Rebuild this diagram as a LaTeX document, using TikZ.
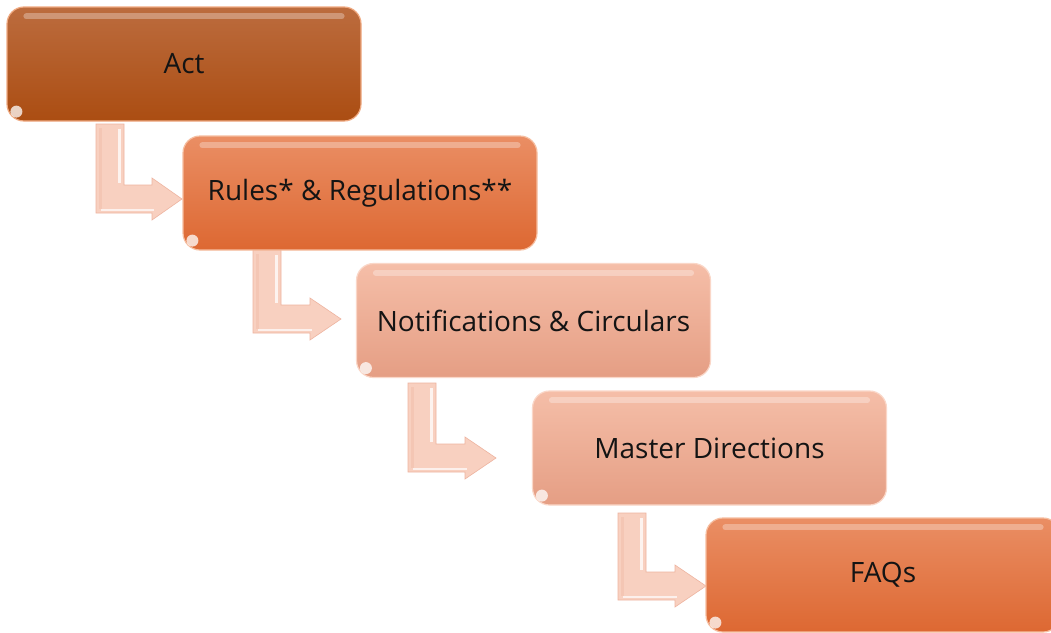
\documentclass[tikz,border=0pt]{standalone}
\usepackage{fontspec}
\setmainfont{Open Sans}
\definecolor{actT}{RGB}{188,108,62}
\definecolor{actB}{RGB}{171,77,18}
\definecolor{actE}{RGB}{240,170,130}
\definecolor{darkT}{RGB}{234,142,100}
\definecolor{darkB}{RGB}{221,104,50}
\definecolor{darkE}{RGB}{246,190,160}
\definecolor{lightT}{RGB}{245,190,168}
\definecolor{lightB}{RGB}{229,158,132}
\definecolor{lightE}{RGB}{250,215,200}
\definecolor{arrowF}{RGB}{248,208,192}
\definecolor{arrowD}{RGB}{238,180,160}
\tikzset{
  box/.style={rounded corners=17pt, minimum width=354pt, minimum height=114pt,
    inner sep=0pt, font=\fontsize{28}{33}\selectfont, text=black!92, line width=1.2pt},
  actbox/.style={box, top color=actT, bottom color=actB, draw=actE},
  darkbox/.style={box, top color=darkT, bottom color=darkB, draw=darkE},
  lightbox/.style={box, top color=lightT, bottom color=lightB, draw=lightE},
  arrowshape/.style={fill=arrowF, draw=arrowD, line width=0.6pt, line join=miter},
}
% #1 left x, #2 top y, #3 bar bottom y, #4 head start x, #5 tip x
\newcommand\bentarrow[5]{%
  \draw[arrowshape] (#1,#2) -- ({#1+28},#2) -- ({#1+28},{#3-28}) -- (#4,{#3-28})
    -- (#4,{#3-35}) -- (#5,{#3-14}) -- (#4,{#3+7}) -- (#4,#3) -- (#1,#3) -- cycle;
  \draw[white, line width=3pt, opacity=0.75] ({#1+23},{#2+5}) -- ({#1+23},{#3-30});
  \draw[white, line width=2pt, opacity=0.7] ({#1+5},{#3-3}) -- ({#4+2},{#3-3});
  \draw[arrowD, line width=3pt, opacity=0.35] ({#1+4},{#2+4}) -- ({#1+4},{#3-4});
}
\newcommand\gloss[1]{%
  \draw[white, line width=6pt, opacity=0.3, line cap=round]
    ([xshift=20pt,yshift=-10pt]#1.north west) -- ([xshift=-20pt,yshift=-10pt]#1.north east);
  \fill[white, opacity=0.75] ([xshift=10pt,yshift=10pt]#1.south west) circle (6pt);
}
\begin{document}
\begin{tikzpicture}[x=1pt,y=-1pt]
\clip (0,0) rectangle (1051,632);
\fill[white] (0,0) rectangle (1051,632);
\bentarrow{96}{124}{213}{152}{182}
\bentarrow{253}{250}{333}{310}{341}
\bentarrow{408}{383}{472}{465}{496}
\bentarrow{618}{513}{600}{675}{706}
\node[actbox]   (act)   at (184,64)    {Act};
\node[darkbox]  (rules) at (360,193)   {Rules* \& Regulations**};
\node[lightbox] (notif) at (533.5,320.5) {Notifications \& Circulars};
\node[lightbox] (mast)  at (709.5,448) {Master Directions};
\node[darkbox]  (faq)   at (883,575)   {FAQs};
\gloss{act}\gloss{rules}\gloss{notif}\gloss{mast}\gloss{faq}
\end{tikzpicture}
\end{document}
